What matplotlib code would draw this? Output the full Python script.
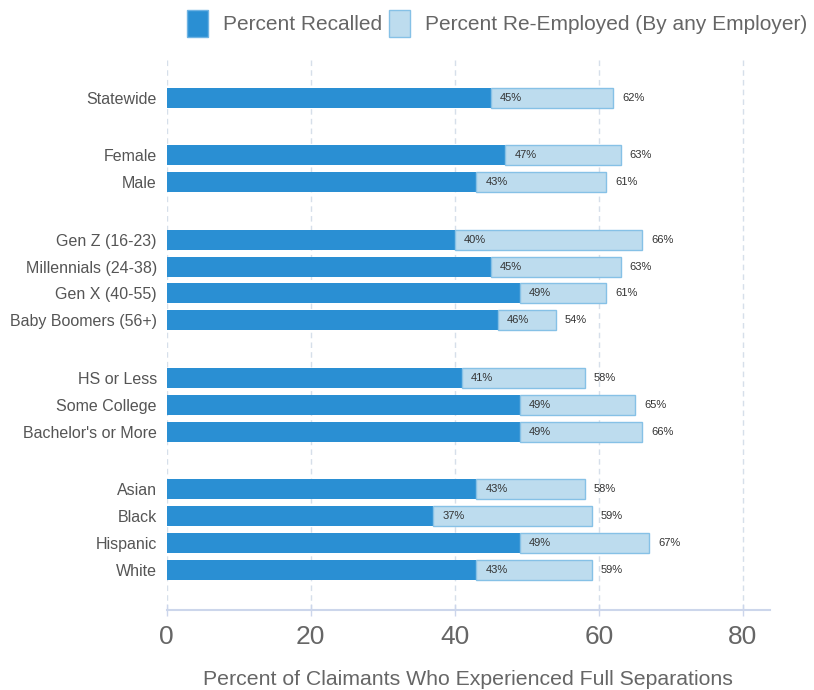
import matplotlib
matplotlib.use("Agg")
import matplotlib.pyplot as plt
from matplotlib.patches import Rectangle

plt.rcParams['font.family'] = ['Liberation Sans', 'DejaVu Sans']

# Groups of demographic categories (blank gap between groups)
groups = [
    ["Statewide"],
    ["Female", "Male"],
    ["Gen Z (16-23)", "Millennials (24-38)", "Gen X (40-55)", "Baby Boomers (56+)"],
    ["HS or Less", "Some College", "Bachelor's or More"],
    ["Asian", "Black", "Hispanic", "White"],
]
recalled = [45, 47, 43, 40, 45, 49, 46, 41, 49, 49, 43, 37, 49, 43]
reemployed = [62, 63, 61, 66, 63, 61, 54, 58, 65, 66, 58, 59, 67, 59]
x_ticks = [0, 20, 40, 60, 80]
x_title = "Percent of Claimants Who Experienced Full Separations"
legend_labels = ["Percent Recalled", "Percent Re-Employed (By any Employer)"]

DARK = "#2a8fd3"
LIGHT = "#bddcee"
LIGHT_EDGE = "#86c1e6"
GRID = "#d6dfea"
AXIS = "#ccd6eb"

# vertical positions: one unit per row, wider step between groups
group_gap = 2.15
labels, ypos = [], []
y = 0.0
for gi, g in enumerate(groups):
    if gi > 0:
        y += group_gap - 1
    for name in g:
        labels.append(name)
        ypos.append(y)
        y += 1

W, H = 814, 690
fig = plt.figure(figsize=(W / 100, H / 100), dpi=100)
ax = fig.add_axes([166.7 / W, 1 - 610 / H, (770 - 166.7) / W, (610 - 60) / H])

bar_h = 0.745
extra = [t - r for t, r in zip(reemployed, recalled)]
ax.barh(ypos, recalled, height=bar_h, color=DARK, linewidth=0, zorder=3)
ax.barh(ypos, extra, left=recalled, height=bar_h, color=LIGHT,
        edgecolor=LIGHT_EDGE, linewidth=1.0, zorder=3)

for yy, r, t in zip(ypos, recalled, reemployed):
    ax.annotate(f"{r}%", xy=(r, yy), xytext=(6.5, 0), textcoords="offset points",
                ha="left", va="center", fontsize=8, color="#333333", zorder=4)
    ax.annotate(f"{t}%", xy=(t, yy), xytext=(6.5, 0), textcoords="offset points",
                ha="left", va="center", fontsize=8, color="#333333", zorder=4)

ax.set_xlim(0, 83.75)
ax.set_ylim(19.1, -1.4)
ax.set_yticks(ypos)
ax.set_yticklabels(labels, fontsize=11.5, color="#555555")
ax.tick_params(axis="y", length=0, pad=7)

ax.set_xticks(x_ticks)
ax.set_xticklabels([str(v) for v in x_ticks], fontsize=19, color="#666666")
ax.tick_params(axis="x", length=8, width=1, color=AXIS, direction="inout", pad=7)

for s in ["top", "right", "left"]:
    ax.spines[s].set_visible(False)
ax.spines["bottom"].set_color(AXIS)
ax.spines["bottom"].set_linewidth(1.5)

ax.grid(axis="x", color=GRID, linewidth=1.0, linestyle=(0, (4, 3)), zorder=0)
ax.set_axisbelow(True)

ax.set_xlabel(x_title, fontsize=15.3, color="#666666", labelpad=15)

# legend drawn across the top of the figure
def fig_rect(x0, x1, y0, y1, fc, ec=None):
    fig.patches.append(Rectangle((x0 / W, 1 - y1 / H), (x1 - x0) / W, (y1 - y0) / H,
                                 transform=fig.transFigure, facecolor=fc,
                                 edgecolor=ec if ec else fc, linewidth=1))

fig_rect(187, 208, 10, 37, DARK, "#6fb3e3")
fig.text(223 / W, 1 - 24 / H, legend_labels[0], fontsize=15, color="#666666",
         ha="left", va="center")
fig_rect(389, 410, 10, 37, LIGHT, LIGHT_EDGE)
fig.text(425 / W, 1 - 24 / H, legend_labels[1], fontsize=15, color="#666666",
         ha="left", va="center")

fig.savefig("out.png", dpi=100)
